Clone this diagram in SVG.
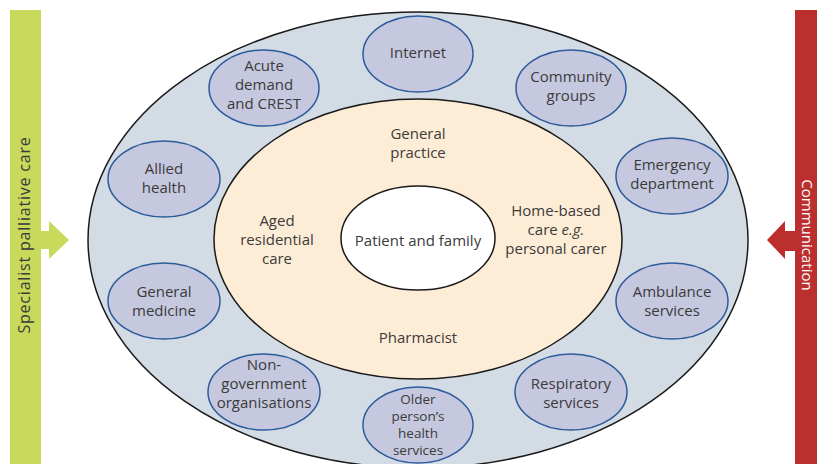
<svg xmlns="http://www.w3.org/2000/svg" width="817" height="464" viewBox="0 0 817 464">
<style>
text{font-family:"Open Sans","Noto Sans","Liberation Sans",sans-serif;font-size:15px;fill:#3b3b3b;text-anchor:middle}
.sm{fill:#c5c8de;stroke:#2d5b9b;stroke-width:1.5}
.bar{font-size:16px}
.tight{font-size:13.5px}
</style>
<rect width="817" height="464" fill="#ffffff"/>
<g id="outer-ring"><ellipse cx="418" cy="240" rx="330" ry="228" fill="#d3dce5" stroke="#1a1a1a" stroke-width="1.5"/></g>
<g id="inner-ring"><ellipse cx="418" cy="239" rx="204" ry="140" fill="#feedd6" stroke="#1a1a1a" stroke-width="1.5"/>
<text x="418" y="139">General</text><text x="418" y="158">practice</text>
<text x="277" y="226">Aged</text><text x="277" y="245">residential</text><text x="277" y="264">care</text>
<text x="556" y="216">Home-based</text><text x="556" y="235">care <tspan font-style="italic">e.g.</tspan></text><text x="556" y="254">personal carer</text>
<text x="418" y="343">Pharmacist</text>
</g>
<g id="patient"><ellipse cx="418" cy="238" rx="77" ry="52" fill="#ffffff" stroke="#1a1a1a" stroke-width="1.5"/><text x="418" y="246">Patient and family</text></g>
<g id="internet"><ellipse class="sm" cx="418" cy="54" rx="55" ry="38"/><text x="418" y="58">Internet</text></g>
<g id="acute"><ellipse class="sm" cx="264" cy="88" rx="55" ry="38"/><text x="264" y="71">Acute</text><text x="264" y="90">demand</text><text x="264" y="109">and CREST</text></g>
<g id="community"><ellipse class="sm" cx="571" cy="88" rx="55" ry="38"/><text x="571" y="82">Community</text><text x="571" y="101">groups</text></g>
<g id="allied"><ellipse class="sm" cx="164" cy="179" rx="56" ry="38"/><text x="164" y="174">Allied</text><text x="164" y="193">health</text></g>
<g id="emergency"><ellipse class="sm" cx="672" cy="176" rx="56" ry="38"/><text x="672" y="170">Emergency</text><text x="672" y="189">department</text></g>
<g id="general-medicine"><ellipse class="sm" cx="164" cy="301" rx="56" ry="38"/><text x="164" y="297">General</text><text x="164" y="316">medicine</text></g>
<g id="ambulance"><ellipse class="sm" cx="672" cy="301" rx="56" ry="38"/><text x="672" y="297">Ambulance</text><text x="672" y="316">services</text></g>
<g id="ngo"><ellipse class="sm" cx="264" cy="392" rx="56" ry="38"/><text x="264" y="370">Non-</text><text x="264" y="389">government</text><text x="264" y="408">organisations</text></g>
<g id="older"><ellipse class="sm" cx="418" cy="425" rx="55" ry="38"/><text class="tight" x="418" y="404">Older</text><text class="tight" x="418" y="421">person’s</text><text class="tight" x="418" y="438">health</text><text class="tight" x="418" y="455">services</text></g>
<g id="respiratory"><ellipse class="sm" cx="571" cy="392" rx="56" ry="38"/><text x="571" y="389">Respiratory</text><text x="571" y="408">services</text></g>
<g id="specialist"><rect x="10" y="10" width="31" height="460" fill="#c8d95b"/><text class="bar" transform="translate(30,235) rotate(-90)" letter-spacing="0.8">Specialist palliative care</text></g>
<g id="communication"><rect x="795" y="10" width="22" height="460" fill="#bb2f2f"/><text transform="translate(801.5,235) rotate(90)" style="fill:#ffffff;font-size:15px">Communication</text></g>
<g id="connectors">
<polygon points="41,231 49,231 49,221 69,240 49,259 49,249 41,249" fill="#c8d95b"/>
<polygon points="795,231 785,231 785,221 767,240 785,259 785,251 795,251" fill="#bb2f2f"/>
</g>
</svg>
